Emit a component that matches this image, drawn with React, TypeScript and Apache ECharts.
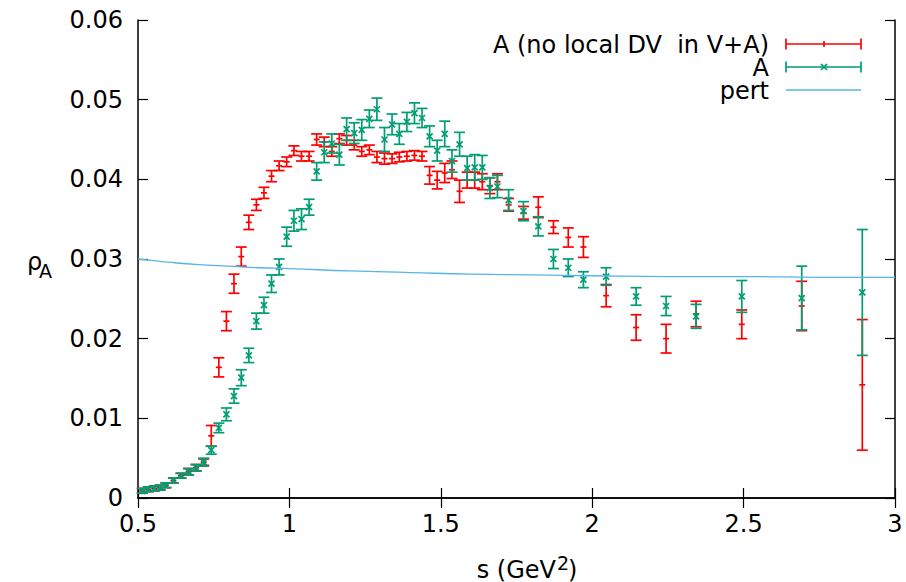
import React, { useEffect, useRef } from "react";
import * as echarts from "echarts";

// s values (GeV^2) shared by both data sets
const sValues = [
  0.514, 0.534, 0.554, 0.573, 0.592, 0.617, 0.642, 0.667, 0.692, 0.717,
  0.742, 0.767, 0.792, 0.817, 0.841, 0.866, 0.891, 0.916, 0.941, 0.966,
  0.991, 1.015, 1.040, 1.065, 1.090, 1.115, 1.140, 1.165, 1.189, 1.214,
  1.239, 1.264, 1.289, 1.314, 1.339, 1.363, 1.388, 1.413, 1.438, 1.463,
  1.488, 1.513, 1.537, 1.562, 1.587, 1.612, 1.637, 1.662, 1.687, 1.724,
  1.773, 1.822, 1.872, 1.921, 1.971, 2.046, 2.145, 2.244, 2.343, 2.494,
  2.692, 2.892,
];

// "A (no local DV  in V+A)" central values and errors
const aNoLocalValues = [
  0.0009, 0.0011, 0.0012, 0.0013, 0.0016, 0.0022, 0.0028, 0.0033, 0.0038, 0.0045,
  0.0078, 0.0164, 0.0222, 0.0269, 0.0303, 0.0346, 0.0368, 0.0383, 0.0404, 0.0417,
  0.0422, 0.0436, 0.0429, 0.0429, 0.0450, 0.0447, 0.0435, 0.0451, 0.0449, 0.0443,
  0.0435, 0.0437, 0.0428, 0.0426, 0.0426, 0.0428, 0.0429, 0.0430, 0.0429, 0.0405,
  0.0399, 0.0408, 0.0412, 0.0385, 0.0399, 0.0399, 0.0397, 0.0392, 0.0397, 0.0368,
  0.0358, 0.0365, 0.0340, 0.0327, 0.0315, 0.0254, 0.0214, 0.0200, 0.0231, 0.0218,
  0.0241, 0.0142,
];
const aNoLocalErrors = [
  0.0003, 0.0003, 0.0003, 0.0003, 0.0003, 0.0003, 0.0003, 0.0004, 0.0004, 0.0004,
  0.0013, 0.0012, 0.0012, 0.0012, 0.0012, 0.0009, 0.0007, 0.0007, 0.0007, 0.0006,
  0.0006, 0.0006, 0.0006, 0.0006, 0.0007, 0.0006, 0.0006, 0.0006, 0.0006, 0.0006,
  0.0006, 0.0006, 0.0007, 0.0007, 0.0006, 0.0006, 0.0006, 0.0006, 0.0006, 0.0011,
  0.0011, 0.0012, 0.0011, 0.0014, 0.0010, 0.0010, 0.0010, 0.0010, 0.0010, 0.0008,
  0.0008, 0.0013, 0.0008, 0.0012, 0.0013, 0.0014, 0.0016, 0.0018, 0.0016, 0.0018,
  0.0031, 0.0082,
];

// "A" central values and errors
const aValues = [
  0.0009, 0.0011, 0.0012, 0.0013, 0.0016, 0.0022, 0.0028, 0.0033, 0.0038, 0.0045,
  0.0060, 0.0088, 0.0105, 0.0128, 0.0151, 0.0179, 0.0222, 0.0242, 0.0269, 0.0290,
  0.0328, 0.0348, 0.0350, 0.0365, 0.0410, 0.0434, 0.0445, 0.0431, 0.0463, 0.0458,
  0.0462, 0.0476, 0.0488, 0.0450, 0.0469, 0.0457, 0.0472, 0.0483, 0.0477, 0.0454,
  0.0436, 0.0457, 0.0423, 0.0444, 0.0414, 0.0415, 0.0415, 0.0389, 0.0391, 0.0374,
  0.0360, 0.0341, 0.0300, 0.0289, 0.0274, 0.0278, 0.0253, 0.0241, 0.0228, 0.0253,
  0.0251, 0.0258,
];
const aErrors = [
  0.0003, 0.0003, 0.0003, 0.0003, 0.0003, 0.0003, 0.0003, 0.0004, 0.0004, 0.0005,
  0.0005, 0.0006, 0.0008, 0.0009, 0.0010, 0.0009, 0.0010, 0.0010, 0.0011, 0.0010,
  0.0012, 0.0013, 0.0013, 0.0010, 0.0011, 0.0013, 0.0012, 0.0013, 0.0014, 0.0013,
  0.0013, 0.0011, 0.0014, 0.0015, 0.0013, 0.0013, 0.0012, 0.0013, 0.0012, 0.0013,
  0.0013, 0.0016, 0.0014, 0.0015, 0.0015, 0.0016, 0.0015, 0.0013, 0.0014, 0.0013,
  0.0012, 0.0012, 0.0012, 0.0011, 0.0010, 0.0011, 0.0011, 0.0012, 0.0015, 0.0020,
  0.0040, 0.0079,
];

// perturbative curve
const pertS = [0.5, 0.55, 0.6, 0.7, 0.8, 0.9, 1.0, 1.2, 1.4, 1.6, 1.8, 2.0, 2.25, 2.5, 2.75, 3.0];
const pertValues = [0.0300, 0.0298, 0.0296, 0.0293, 0.0291, 0.0289, 0.0288, 0.0285, 0.0283, 0.0281, 0.0280, 0.0279, 0.0278, 0.0278, 0.0277, 0.0277];

// the double space of the original label is kept with a no-break space
const legendLabels = ["A (no local DV\u00a0 in V+A)", "A", "pert"];

const RED = "#ff0000";
const GREEN = "#009e73";
const BLUE = "#56b4e9";
const FONT = "DejaVu Sans";

function errorRenderer(color: string, marker: "plus" | "cross") {
  return (params: any, api: any) => {
    const x = api.value(0);
    const y = api.value(1);
    const e = api.value(2);
    const c = api.coord([x, y]);
    const top = api.coord([x, y + e]);
    const bot = api.coord([x, y - e]);
    const cw = 5.5;
    const style = { stroke: color, lineWidth: 1.7, fill: null };
    const children: any[] = [
      { type: "line", shape: { x1: c[0], y1: top[1], x2: c[0], y2: bot[1] }, style },
      { type: "line", shape: { x1: c[0] - cw, y1: top[1], x2: c[0] + cw, y2: top[1] }, style },
      { type: "line", shape: { x1: c[0] - cw, y1: bot[1], x2: c[0] + cw, y2: bot[1] }, style },
    ];
    if (marker === "plus") {
      children.push({ type: "line", shape: { x1: c[0] - 3, y1: c[1], x2: c[0] + 3, y2: c[1] }, style });
    } else {
      children.push({ type: "line", shape: { x1: c[0] - 3, y1: c[1] - 3, x2: c[0] + 3, y2: c[1] + 3 }, style });
      children.push({ type: "line", shape: { x1: c[0] - 3, y1: c[1] + 3, x2: c[0] + 3, y2: c[1] - 3 }, style });
    }
    return { type: "group", children };
  };
}

function legendSample(y: number, color: string, kind: "plus" | "cross" | "line") {
  const x1 = 786;
  const x2 = 861;
  const xm = 824;
  const style = { stroke: color, lineWidth: kind === "line" ? 1.3 : 1.7 };
  const els: any[] = [{ type: "line", shape: { x1, y1: y, x2, y2: y }, style }];
  if (kind !== "line") {
    els.push({ type: "line", shape: { x1, y1: y - 5.5, x2: x1, y2: y + 5.5 }, style });
    els.push({ type: "line", shape: { x1: x2, y1: y - 5.5, x2, y2: y + 5.5 }, style });
    if (kind === "plus") {
      els.push({ type: "line", shape: { x1: xm, y1: y - 3, x2: xm, y2: y + 3 }, style });
    } else {
      els.push({ type: "line", shape: { x1: xm - 3, y1: y - 3, x2: xm + 3, y2: y + 3 }, style });
      els.push({ type: "line", shape: { x1: xm - 3, y1: y + 3, x2: xm + 3, y2: y - 3 }, style });
    }
  }
  return els;
}

const fmtY = (v: number) => String(parseFloat(v.toFixed(3)));
const fmtX = (v: number) => String(parseFloat(v.toFixed(2)));

export default function App() {
  const ref = useRef<HTMLDivElement>(null);

  useEffect(() => {
    if (!ref.current) return;
    const chart = echarts.init(ref.current, null, { renderer: "svg" });

    const noLocalData = sValues.map((s, i) => [s, aNoLocalValues[i], aNoLocalErrors[i]]);
    const aData = sValues.map((s, i) => [s, aValues[i], aErrors[i]]);
    const pertData = pertS.map((s, i) => [s, pertValues[i]]);

    const axisLine = { show: true, lineStyle: { color: "#000", width: 1.5 } };
    const tick = { show: true, inside: true, length: 10, lineStyle: { color: "#000", width: 1.2 } };
    const label = { color: "#000", fontFamily: FONT, fontSize: 24 };

    const rows = [44, 67, 90];

    chart.setOption({
      animation: false,
      backgroundColor: "#fff",
      grid: { left: 138, right: 11, top: 20, bottom: 84, containLabel: false },
      xAxis: [
        {
          type: "value", min: 0.5, max: 3, interval: 0.5, position: "bottom",
          axisLine, axisTick: tick, splitLine: { show: false },
          axisLabel: { ...label, margin: 14, formatter: fmtX },
        },
        {
          type: "value", min: 0.5, max: 3, interval: 0.5, position: "top",
          axisLine, axisTick: tick, splitLine: { show: false }, axisLabel: { show: false },
        },
      ],
      yAxis: [
        {
          type: "value", min: 0, max: 0.06, interval: 0.01, position: "left",
          axisLine, axisTick: tick, splitLine: { show: false },
          axisLabel: { ...label, margin: 15, formatter: fmtY },
        },
        {
          type: "value", min: 0, max: 0.06, interval: 0.01, position: "right",
          axisLine, axisTick: tick, splitLine: { show: false }, axisLabel: { show: false },
        },
      ],
      series: [
        {
          type: "custom", name: legendLabels[0], xAxisIndex: 0, yAxisIndex: 0,
          renderItem: errorRenderer(RED, "plus"), data: noLocalData,
          encode: { x: 0, y: 1 }, z: 2,
        },
        {
          type: "custom", name: legendLabels[1], xAxisIndex: 0, yAxisIndex: 0,
          renderItem: errorRenderer(GREEN, "cross"), data: aData,
          encode: { x: 0, y: 1 }, z: 3,
        },
        {
          type: "line", name: legendLabels[2], xAxisIndex: 0, yAxisIndex: 0,
          data: pertData, smooth: true, showSymbol: false, symbol: "none",
          lineStyle: { color: BLUE, width: 1.3 }, z: 4,
        },
      ],
      graphic: [
        ...legendLabels.map((t, i) => ({
          type: "text", x: 769, y: rows[i] + 1,
          style: { text: t, fontFamily: FONT, fontSize: 24, fill: "#000", align: "right", verticalAlign: "middle" },
        })),
        ...legendSample(rows[0], RED, "plus"),
        ...legendSample(rows[1], GREEN, "cross"),
        ...legendSample(rows[2], BLUE, "line"),
        {
          type: "text", x: 27, y: 262,
          style: { text: "ρ", fontFamily: FONT, fontSize: 24, fill: "#000", align: "left", verticalAlign: "middle" },
        },
        {
          type: "text", x: 39, y: 271,
          style: { text: "A", fontFamily: FONT, fontSize: 19, fill: "#000", align: "left", verticalAlign: "middle" },
        },
        {
          type: "text", x: 556, y: 570,
          style: { text: "s (GeV", fontFamily: FONT, fontSize: 24, fill: "#000", align: "right", verticalAlign: "middle" },
        },
        {
          type: "text", x: 557, y: 563,
          style: { text: "2", fontFamily: FONT, fontSize: 19, fill: "#000", align: "left", verticalAlign: "middle" },
        },
        {
          type: "text", x: 568, y: 570,
          style: { text: ")", fontFamily: FONT, fontSize: 24, fill: "#000", align: "left", verticalAlign: "middle" },
        },
      ],
    });

    return () => chart.dispose();
  }, []);

  return (
    <div
      ref={ref}
      style={{ position: "fixed", left: 0, top: 0, width: 906, height: 582, background: "#fff" }}
    />
  );
}
